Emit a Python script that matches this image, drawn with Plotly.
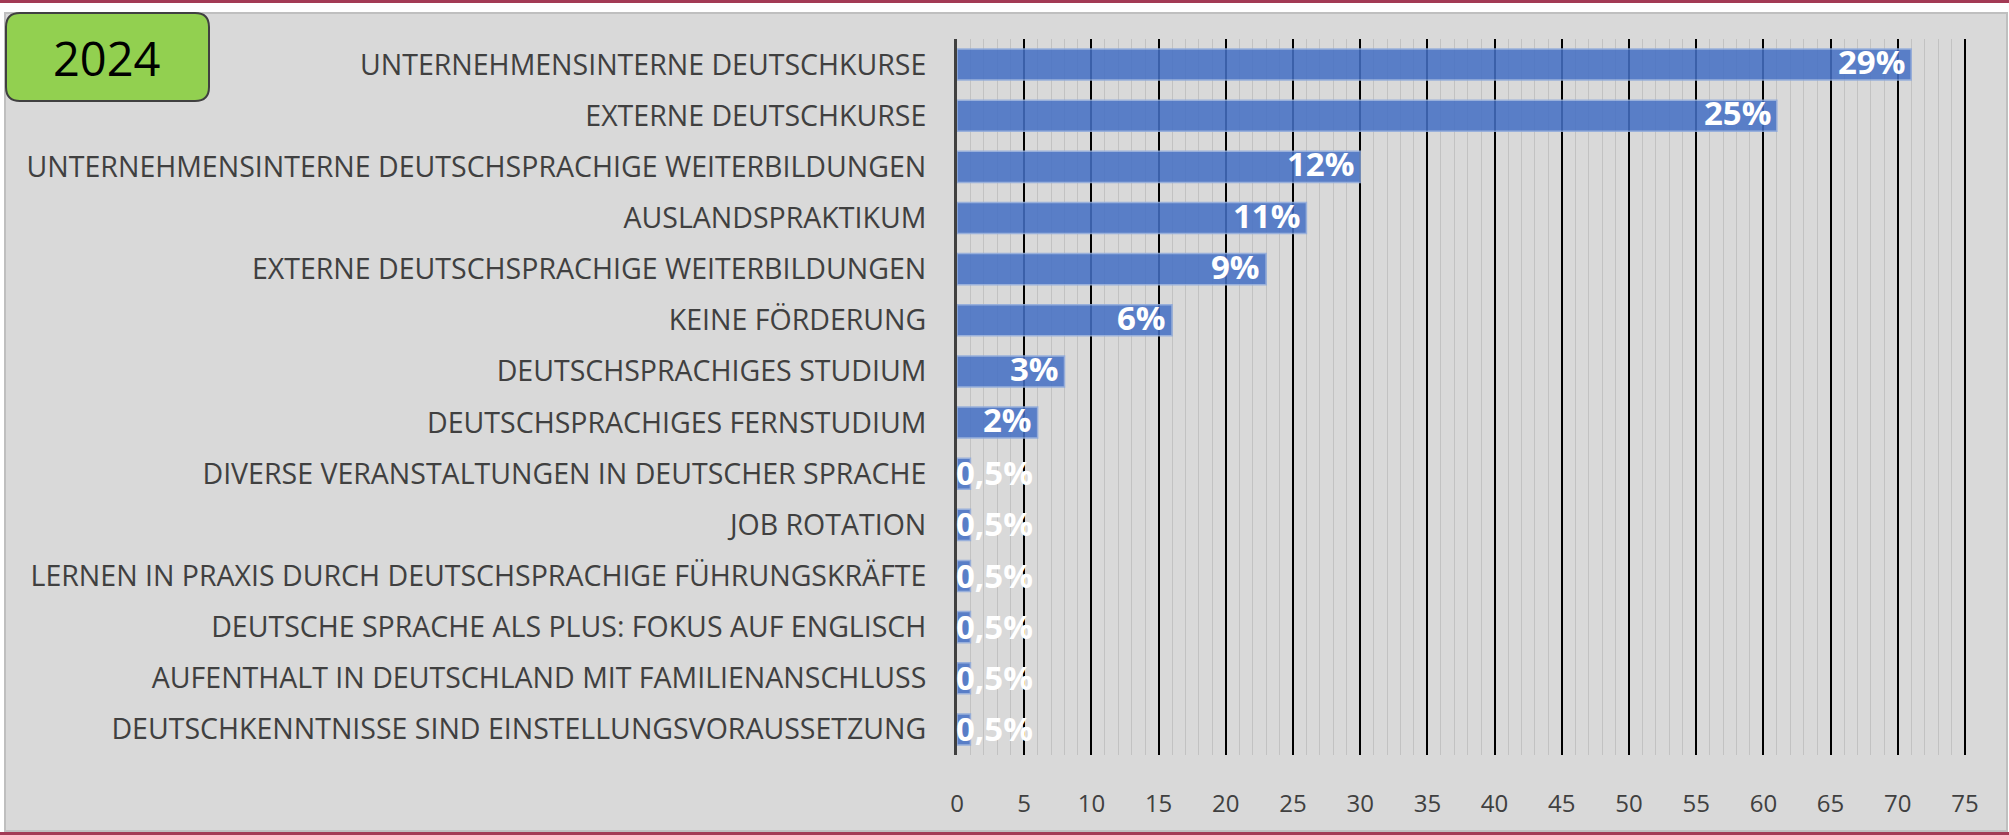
import plotly.graph_objects as go

categories = [
    "UNTERNEHMENSINTERNE DEUTSCHKURSE",
    "EXTERNE DEUTSCHKURSE",
    "UNTERNEHMENSINTERNE DEUTSCHSPRACHIGE WEITERBILDUNGEN",
    "AUSLANDSPRAKTIKUM",
    "EXTERNE DEUTSCHSPRACHIGE WEITERBILDUNGEN",
    "KEINE FÖRDERUNG",
    "DEUTSCHSPRACHIGES STUDIUM",
    "DEUTSCHSPRACHIGES FERNSTUDIUM",
    "DIVERSE VERANSTALTUNGEN IN DEUTSCHER SPRACHE",
    "JOB ROTATION",
    "LERNEN IN PRAXIS DURCH DEUTSCHSPRACHIGE FÜHRUNGSKRÄFTE",
    "DEUTSCHE SPRACHE ALS PLUS: FOKUS AUF ENGLISCH",
    "AUFENTHALT IN DEUTSCHLAND MIT FAMILIENANSCHLUSS",
    "DEUTSCHKENNTNISSE SIND EINSTELLUNGSVORAUSSETZUNG",
]
values = [71, 61, 30, 26, 23, 16, 8, 6, 1, 1, 1, 1, 1, 1]
percent_labels = ["29%", "25%", "12%", "11%", "9%", "6%", "3%", "2%",
                  "0,5%", "0,5%", "0,5%", "0,5%", "0,5%", "0,5%"]
tick_values = list(range(0, 80, 5))
year_label = "2024"

W, H = 2009, 835
ML, MR, MT, MB = 957, 42, 39, 80
PW, PH = W - ML - MR, H - MT - MB


def px(x):
    return (x - ML) / PW


def py(y):
    return (H - MB - y) / PH


fig = go.Figure()
fig.add_trace(go.Bar(
    x=values, y=categories, orientation="h",
    marker=dict(color="#4570C5", line=dict(color="#8FAADC", width=1.5)),
    opacity=0.86, hoverinfo="skip",
))

label_font = dict(family="Open Sans", size=33, color="white", weight="bold")
annotations = []
for cat, v, lab in zip(categories, values, percent_labels):
    if v >= 5:
        annotations.append(dict(x=v, y=cat, xref="x", yref="y", text=lab, showarrow=False,
                                xanchor="right", xshift=-4, yshift=3, font=label_font))
    else:
        annotations.append(dict(x=0, y=cat, xref="x", yref="y", text=lab, showarrow=False,
                                xanchor="left", xshift=-3, yshift=1, font=label_font))

annotations.append(dict(x=px(107), y=py(58), xref="paper", yref="paper", text=year_label,
                        showarrow=False, xanchor="center", yanchor="middle",
                        font=dict(family="Open Sans", size=47, color="black")))

# rounded box path
x0, x1, y0, y1, r = 6, 209, 13, 101, 14
path = (f"M {px(x0 + r)},{py(y0)} L {px(x1 - r)},{py(y0)} Q {px(x1)},{py(y0)} {px(x1)},{py(y0 + r)} "
        f"L {px(x1)},{py(y1 - r)} Q {px(x1)},{py(y1)} {px(x1 - r)},{py(y1)} "
        f"L {px(x0 + r)},{py(y1)} Q {px(x0)},{py(y1)} {px(x0)},{py(y1 - r)} "
        f"L {px(x0)},{py(y0 + r)} Q {px(x0)},{py(y0)} {px(x0 + r)},{py(y0)} Z")

shapes = [
    dict(type="rect", xref="paper", yref="paper", x0=px(5), x1=px(2007), y0=py(831), y1=py(13),
         fillcolor="#D9D9D9", line=dict(color="#BFBFBF", width=2), layer="below"),
    dict(type="rect", xref="paper", yref="paper", x0=px(0), x1=px(W), y0=py(3), y1=py(0),
         fillcolor="#A33A55", line=dict(width=0), layer="below"),
    dict(type="rect", xref="paper", yref="paper", x0=px(0), x1=px(W), y0=py(835), y1=py(832),
         fillcolor="#A33A55", line=dict(width=0), layer="below"),
    dict(type="path", xref="paper", yref="paper", path=path,
         fillcolor="#92D050", line=dict(color="#404040", width=2), layer="above"),
]

fig.update_layout(
    width=W, height=H,
    margin=dict(l=ML, r=MR, t=MT, b=MB),
    paper_bgcolor="white", plot_bgcolor="#D9D9D9",
    showlegend=False, bargap=0.393,
    annotations=annotations, shapes=shapes,
    xaxis=dict(range=[0, 75.15], tickvals=tick_values, showgrid=True, gridcolor="black", gridwidth=2,
               minor=dict(dtick=1, showgrid=True, gridcolor="#C2C2C2", gridwidth=1),
               zeroline=False, showline=False, ticks="", ticklabelstandoff=32,
               tickfont=dict(family="Open Sans", size=24, color="#404040")),
    yaxis=dict(autorange="reversed", showgrid=False, zeroline=False, showline=True,
               linecolor="#404040", linewidth=3, ticks="", ticklabelstandoff=22,
               tickfont=dict(family="Open Sans", size=28.5, color="#404040")),
)

fig.write_html("out.html", config={"displayModeBar": False},
               post_script="document.body.style.margin='0px';document.body.style.overflow='hidden';")
